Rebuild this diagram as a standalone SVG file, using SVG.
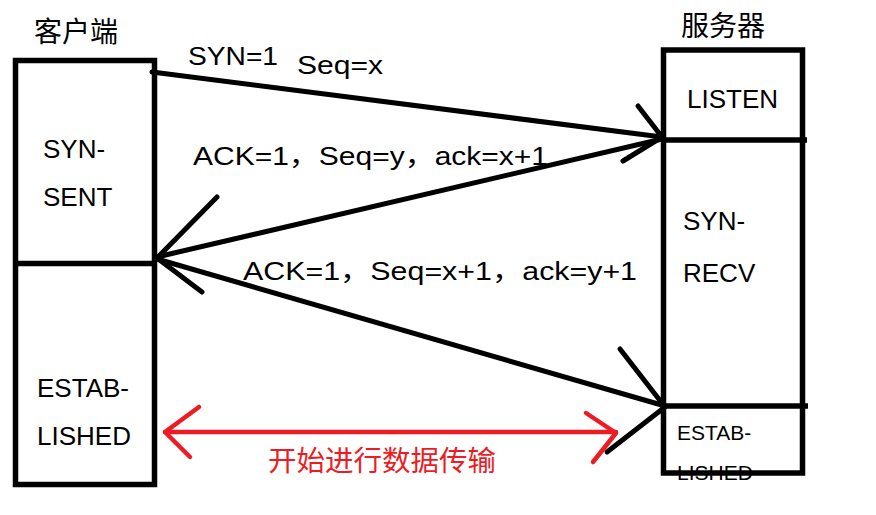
<svg xmlns="http://www.w3.org/2000/svg" width="876" height="515" viewBox="0 0 876 515">
<style>
.t{font-family:"Liberation Sans","Noto Sans CJK SC",sans-serif;font-size:26px;fill:#000}
.cj{font-family:"Noto Sans CJK SC",sans-serif;font-size:28px;fill:#000}
.box{fill:none;stroke:#000;stroke-width:5.5}
.ln{fill:none;stroke:#000;stroke-width:5;stroke-linecap:round;stroke-linejoin:round}
.red{fill:none;stroke:#ed1c24;stroke-width:4.5;stroke-linecap:round;stroke-linejoin:round}
</style>
<rect width="876" height="515" fill="#fff"/>
<g id="client">
<text class="cj" x="34" y="42">客户端</text>
<text class="t" x="43" y="158">SYN-</text>
<text class="t" x="43" y="206">SENT</text>
<text class="t" x="37" y="397">ESTAB-</text>
<text class="t" x="37" y="445">LISHED</text>
<rect class="box" x="15.5" y="60.5" width="139" height="424"/>
<line class="box" x1="15.5" y1="263.5" x2="157" y2="263.5"/>
</g>
<g id="server">
<text class="cj" x="681" y="36">服务器</text>
<text class="t" x="687" y="108">LISTEN</text>
<text class="t" x="683" y="230">SYN-</text>
<text class="t" x="683" y="282">RECV</text>
<text class="t" x="677" y="440" style="font-size:21px">ESTAB-</text>
<text class="t" x="677" y="480" style="font-size:21px">LISHED</text>
<rect class="box" x="663.5" y="50" width="139" height="423"/>
<line class="box" x1="663.5" y1="140" x2="807" y2="140"/>
<line class="box" x1="663.5" y1="406" x2="808" y2="406"/>
</g>
<g id="connectors">
<polyline class="ln" points="152,72 662,137"/>
<polyline class="ln" points="638,106 662,137 623,161"/>
<polyline class="ln" points="662,139 157,257"/>
<polyline class="ln" points="217,197 157,258 202,292"/>
<polyline class="ln" points="157,259 665,406"/>
<polyline class="ln" points="620,349 665,407 607,452"/>
<line class="red" x1="165" y1="432" x2="616" y2="432"/>
<polyline class="red" points="199,407 165,432 190,457"/>
<polyline class="red" points="586,413 616,433 593,462"/>
</g>
<g id="labels">
<text class="t" x="188" y="65" textLength="90" lengthAdjust="spacingAndGlyphs">SYN=1</text>
<text class="t" x="297" y="74" textLength="86" lengthAdjust="spacingAndGlyphs">Seq=x</text>
<text class="t" x="193" y="165" textLength="355" lengthAdjust="spacingAndGlyphs">ACK=1，Seq=y，ack=x+1</text>
<text class="t" x="243" y="280" textLength="394" lengthAdjust="spacingAndGlyphs">ACK=1，Seq=x+1，ack=y+1</text>
<text class="cj" x="268" y="471" style="fill:#ed1c24;font-size:28.5px">开始进行数据传输</text>
</g>
</svg>
